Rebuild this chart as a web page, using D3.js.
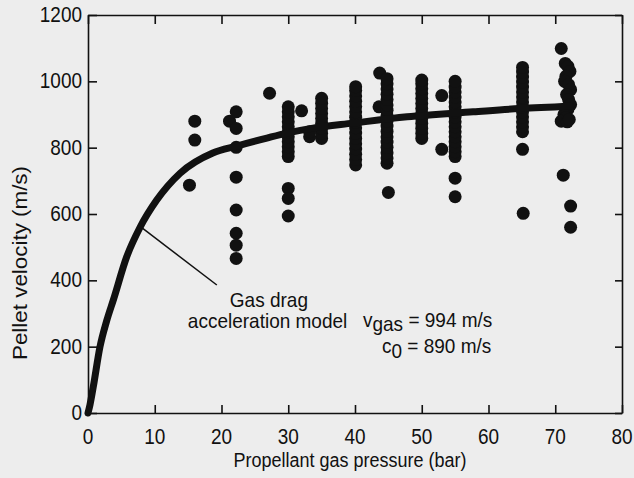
<!DOCTYPE html>
<html>
<head>
<meta charset="utf-8">
<title>Pellet velocity vs propellant gas pressure</title>
<script src="https://d3js.org/d3.v7.min.js"></script>
<style>
  body { margin: 0; background: #ededed; }
  svg { display: block; }
  .axis .domain, .axis .tick line { stroke: #111; stroke-width: 1.6; }
  text { font-family: "Liberation Sans", Arial, sans-serif; fill: #111; }
</style>
</head>
<body>
<div id="chart"></div>
<script>
// tick labels
const xTicks = [0, 10, 20, 30, 40, 50, 60, 70, 80];
const yTicks = [0, 200, 400, 600, 800, 1000, 1200];

const pressure = [
  15.2, 16, 16,
  21.2, 22.2, 22.2, 22.2, 22.2, 22.2, 22.2, 22.2, 22.2,
  27.2,
  30, 30, 30, 30, 30, 30, 30, 30, 30, 30, 30, 30, 30, 30,
  32, 33.2, 33.2,
  35, 35, 35, 35, 35, 35, 35, 35, 35,
  40.1, 40.1, 40.1, 40.1, 40.1, 40.1, 40.1, 40.1, 40.1, 40.1, 40.1, 40.1, 40.1, 40.1, 40.1, 40.1,
  43.7, 43.6,
  44.8, 44.8, 44.8, 44.8, 44.8, 44.8, 44.8, 44.8, 44.8, 44.8, 44.8, 44.8, 44.8, 44.8, 44.8, 44.8, 44.8, 45,
  50, 50, 50, 50, 50, 50, 50, 50, 50, 50, 50, 50, 50,
  53, 53,
  55, 55, 55, 55, 55, 55, 55, 55, 55, 55, 55, 55, 55, 55, 55, 55, 55, 55,
  65.1, 65.1, 65.1, 65.1, 65.1, 65.1, 65.1, 65.1, 65.1, 65.1, 65.1, 65.1, 65.1, 65.1, 65.1, 65.2,
  70.9, 71.5, 71.9, 72.2, 71.6, 71.4, 72.0, 72.3, 71.7, 72.0, 72.3, 71.9, 71.3, 71.6, 70.9, 71.8, 72.1,
  71.2, 72.3, 72.3
];
const velocity = [
  687, 880, 823,
  880, 908, 858, 801, 711, 612, 542, 506, 466,
  964,
  773, 788, 803, 818, 833, 848, 863, 878, 893, 908, 923, 677, 647, 594,
  911, 833, 848,
  828, 843, 858, 873, 888, 903, 918, 934, 949,
  748, 764, 780, 796, 812, 828, 844, 860, 876, 892, 908, 924, 940, 956, 972, 984,
  1025, 923,
  753, 769, 785, 801, 817, 833, 849, 865, 881, 897, 913, 929, 945, 961, 977, 993, 1008, 665,
  828, 843, 858, 873, 888, 903, 918, 933, 948, 963, 978, 993, 1004,
  957, 795,
  773, 788, 803, 818, 833, 848, 863, 878, 893, 908, 923, 938, 953, 968, 983, 1000, 708, 652,
  848, 863, 878, 893, 908, 923, 938, 953, 968, 983, 998, 1013, 1028, 1042, 795, 602,
  1099, 1054, 1045, 1030, 1015, 1000, 990, 975, 960, 945, 930, 915, 900, 890, 880, 878, 885,
  717, 624, 560
];

// gas drag acceleration model curve
const modelP = [0, 0.3, 0.8, 1.8, 2.8, 3.8, 5.8, 7.8, 10.3, 13.8, 18.7, 22.3, 26.8, 29.8, 33.7, 39.7, 47.8, 57.7, 64.7, 72.3];
const modelV = [0, 25, 80, 200, 278, 341, 471, 560, 642, 723, 784, 805, 829, 844, 859, 874, 893, 908, 918, 925];

const W = 634, H = 478;
const stretch = 1.12; // glyphs in the scan are a little taller than wide

const svg = d3.select("#chart").append("svg")
  .attr("width", W)
  .attr("height", H);

const x = d3.scaleLinear().domain([0, 80]).range([88, 622]);
const y = d3.scaleLinear().domain([0, 1200]).range([413, 15]);

// frame with inward ticks on all four sides
svg.append("g").attr("class", "axis")
  .attr("transform", "translate(0," + y(0) + ")")
  .call(d3.axisBottom(x).tickValues(xTicks).tickSizeInner(-8).tickSizeOuter(0).tickFormat(""));
svg.append("g").attr("class", "axis")
  .attr("transform", "translate(0," + y(1200) + ")")
  .call(d3.axisTop(x).tickValues(xTicks).tickSizeInner(-9).tickSizeOuter(0).tickFormat(""));
svg.append("g").attr("class", "axis")
  .attr("transform", "translate(" + x(0) + ",0)")
  .call(d3.axisLeft(y).tickValues(yTicks).tickSizeInner(-9).tickSizeOuter(0).tickFormat(""));
svg.append("g").attr("class", "axis")
  .attr("transform", "translate(" + x(80) + ",0)")
  .call(d3.axisRight(y).tickValues(yTicks).tickSizeInner(-7).tickSizeOuter(0).tickFormat(""));

function put(px, py, size, anchor, sy) {
  return svg.append("text")
    .attr("transform", "translate(" + px + "," + py + ") scale(1," + (sy || stretch) + ")")
    .attr("text-anchor", anchor)
    .style("font-size", size + "px");
}

// tick labels
xTicks.forEach(t => put(x(t), 444, 19, "middle").text(t));
yTicks.forEach(t => put(82, y(t) + 7, 19, "end").text(t));

// axis titles
put(350, 467, 18, "middle").text("Propellant gas pressure (bar)");
svg.append("text")
  .attr("transform", "translate(27,263) rotate(-90) scale(" + stretch + ",1)")
  .attr("text-anchor", "middle")
  .style("font-size", "20px")
  .text("Pellet velocity (m/s)");

// data points
svg.append("g")
  .selectAll("circle")
  .data(pressure)
  .join("circle")
  .attr("cx", d => x(d))
  .attr("cy", (d, i) => y(velocity[i]))
  .attr("r", 6.5)
  .attr("fill", "#111");

// model curve
const line = d3.line()
  .x(d => x(d[0]))
  .y(d => y(d[1]))
  .curve(d3.curveMonotoneX);
svg.append("path")
  .datum(modelP.map((p, i) => [p, modelV[i]]))
  .attr("d", line)
  .attr("fill", "none")
  .attr("stroke", "#111")
  .attr("stroke-width", 7)
  .attr("stroke-linecap", "round");

// annotation
svg.append("line")
  .attr("x1", x(8.1)).attr("y1", y(558))
  .attr("x2", x(19.3)).attr("y2", y(386))
  .attr("stroke", "#111")
  .attr("stroke-width", 1.5);

put(x(27.1), y(320), 19, "middle", 1.05).text("Gas drag");
put(x(26.9), y(256), 19, "middle", 1.05).text("acceleration model");

const vg = put(x(41.2), y(259), 19, "start", 1.05);
vg.append("tspan").text("v");
vg.append("tspan").attr("dy", 4).text("gas");
vg.append("tspan").attr("dy", -4).text(" = 994 m/s");

const c0 = put(x(44.05), y(180), 19, "start", 1.05);
c0.append("tspan").text("c");
c0.append("tspan").attr("dy", 4).text("0");
c0.append("tspan").attr("dy", -4).text(" = 890 m/s");
</script>
</body>
</html>
